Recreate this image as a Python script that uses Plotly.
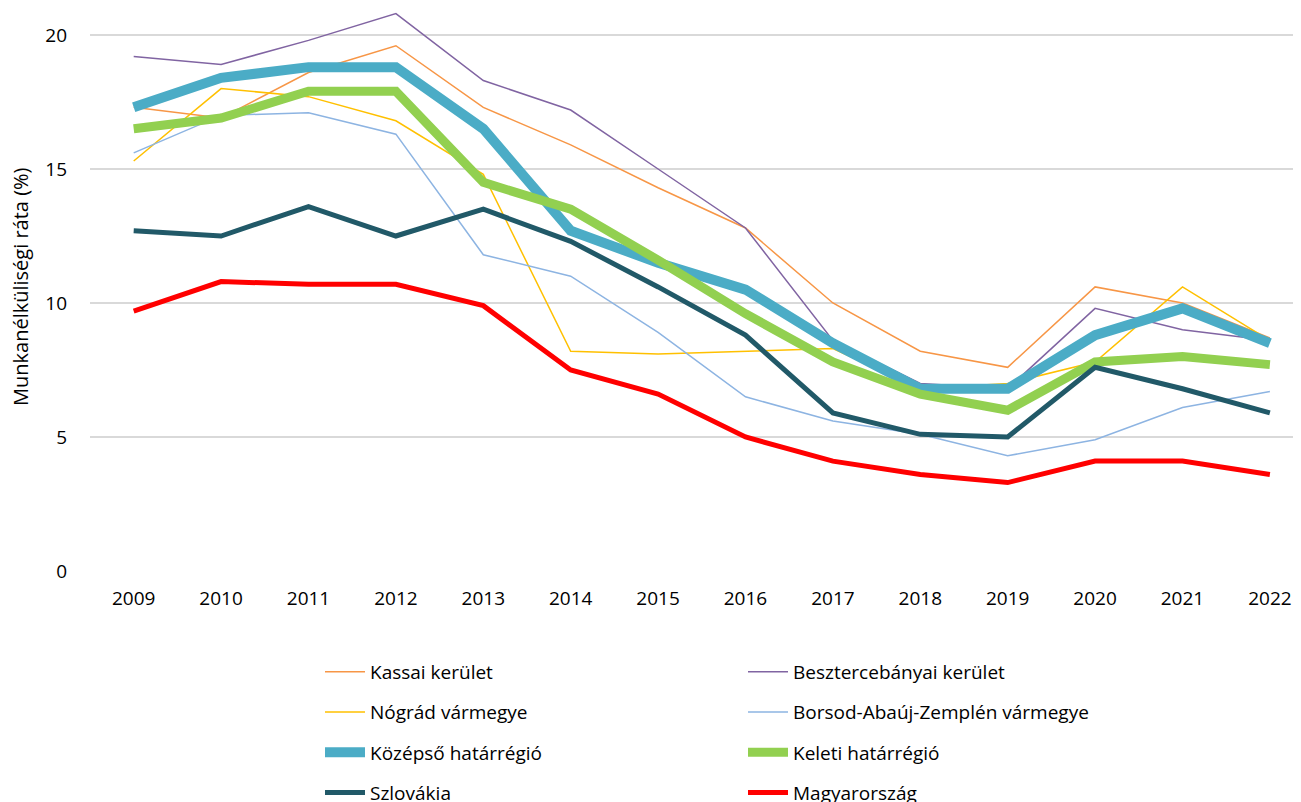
import plotly.graph_objects as go

years = list(range(2009, 2023))

kassai = [17.3, 16.9, 18.6, 19.6, 17.3, 15.9, 14.3, 12.8, 10.0, 8.2, 7.6, 10.6, 10.0, 8.7]
besztercebanyai = [19.2, 18.9, 19.8, 20.8, 18.3, 17.2, 15.0, 12.8, 8.6, 7.0, 6.8, 9.8, 9.0, 8.6]
nograd = [15.3, 18.0, 17.7, 16.8, 14.8, 8.2, 8.1, 8.2, 8.3, 6.8, 7.0, 7.8, 10.6, 8.6]
borsod = [15.6, 17.0, 17.1, 16.3, 11.8, 11.0, 8.9, 6.5, 5.6, 5.1, 4.3, 4.9, 6.1, 6.7]
kozepso = [17.3, 18.4, 18.8, 18.8, 16.5, 12.7, 11.5, 10.5, 8.5, 6.8, 6.8, 8.8, 9.8, 8.5]
keleti = [16.5, 16.9, 17.9, 17.9, 14.5, 13.5, 11.6, 9.6, 7.8, 6.6, 6.0, 7.8, 8.0, 7.7]
szlovakia = [12.7, 12.5, 13.6, 12.5, 13.5, 12.3, 10.6, 8.8, 5.9, 5.1, 5.0, 7.6, 6.8, 5.9]
magyarorszag = [9.7, 10.8, 10.7, 10.7, 9.9, 7.5, 6.6, 5.0, 4.1, 3.6, 3.3, 4.1, 4.1, 3.6]

series = [
    ("Kassai kerület", kassai, "#F79646", 1.5, "legend"),
    ("Besztercebányai kerület", besztercebanyai, "#8064A2", 1.5, "legend2"),
    ("Nógrád vármegye", nograd, "#FFC000", 1.5, "legend"),
    ("Borsod-Abaúj-Zemplén vármegye", borsod, "#8DB4E2", 1.5, "legend2"),
    ("Középső határrégió", kozepso, "#4BACC6", 10, "legend"),
    ("Keleti határrégió", keleti, "#92D050", 9, "legend2"),
    ("Szlovákia", szlovakia, "#215968", 5, "legend"),
    ("Magyarország", magyarorszag, "#FF0000", 5, "legend2"),
]

# the page body has an 8px margin, so the figure is drawn 8px smaller
W, H = 1293, 794
ml, mr, mt, mb = 82, 0, 0, 231
pw = W - ml - mr
ph = H - mt - mb
ymax = ph / 26.8  # plot area runs a bit above the 20 line

fig = go.Figure()
for name, vals, col, lw, leg in series:
    fig.add_trace(go.Scatter(
        x=years, y=vals, name=name, mode="lines",
        line=dict(color=col, width=lw),
        legend=leg, legendgroup=name,
    ))

font = "Open Sans, sans-serif"
legend_common = dict(
    orientation="v", yanchor="top", xanchor="left",
    font=dict(family=font, size=19, color="#000000"),
    itemwidth=40, tracegroupgap=12.5, bgcolor="rgba(0,0,0,0)",
)

fig.update_layout(
    width=W, height=H,
    margin=dict(l=ml, r=mr, t=mt, b=mb, autoexpand=False),
    plot_bgcolor="white", paper_bgcolor="white",
    font=dict(family=font, size=19, color="#000000"),
    legend=dict(x=(312 - ml) / pw, y=(ph - 645) / ph, **legend_common),
    legend2=dict(x=(735 - ml) / pw, y=(ph - 645) / ph, **legend_common),
    annotations=[dict(
        text="Munkanélküliségi ráta (%)", textangle=-90,
        xref="paper", yref="paper",
        x=(12 - ml) / pw, y=(ph - 279) / ph,
        xanchor="center", yanchor="middle", showarrow=False,
        font=dict(family=font, size=20, color="#000000"),
    )],
)
fig.update_xaxes(
    range=[2008.5, 2022.356], tickmode="array", tickvals=years,
    showgrid=False, showline=False, zeroline=False, ticks="",
    ticklabelstandoff=14,
)
fig.update_yaxes(
    range=[0, ymax], tickvals=[0, 5, 10, 15, 20],
    showgrid=True, gridcolor="#D9D9D9", gridwidth=1.5,
    zeroline=False, showline=False, ticks="",
    ticklabelstandoff=22,
)

fig.write_html("out.html")
